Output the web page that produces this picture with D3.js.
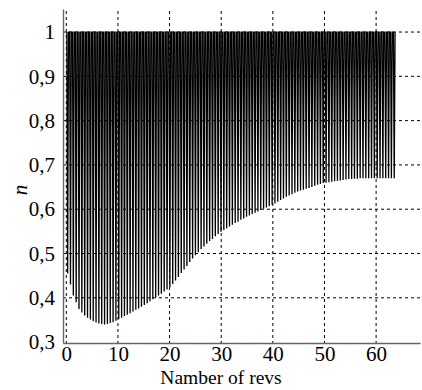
<!DOCTYPE html>
<html>
<head>
<meta charset="utf-8">
<script src="https://cdn.jsdelivr.net/npm/d3@7"></script>
<style>
  body { margin: 0; background: #fff; }
  text { font-family: 'Liberation Serif', 'DejaVu Serif', serif; fill: #000; }
</style>
</head>
<body>
<svg id="chart"></svg>
<script>
// lower point of every dip (n), one dip each dipStep revs, starting at firstDip
const firstDip = 0.1;
const dipStep = 0.55;
const peak = 1;
const dipMin = [
  0.455, 0.43, 0.405, 0.39, 0.375, 0.367, 0.36, 0.355, 0.351, 0.347,
  0.344, 0.342, 0.341, 0.340, 0.341, 0.343, 0.345, 0.348, 0.352, 0.355,
  0.359, 0.362, 0.365, 0.369, 0.373, 0.376, 0.38, 0.384, 0.388, 0.392,
  0.397, 0.401, 0.405, 0.409, 0.414, 0.419, 0.424, 0.431, 0.439, 0.447,
  0.456, 0.464, 0.472, 0.481, 0.489, 0.496, 0.503, 0.51, 0.516, 0.522,
  0.528, 0.533, 0.539, 0.544, 0.549, 0.553, 0.557, 0.561, 0.565, 0.569,
  0.572, 0.576, 0.579, 0.583, 0.586, 0.589, 0.592, 0.595, 0.598, 0.601,
  0.604, 0.607, 0.61, 0.613, 0.617, 0.621, 0.624, 0.628, 0.631, 0.634,
  0.637, 0.64, 0.642, 0.644, 0.646, 0.648, 0.65, 0.653, 0.655, 0.657,
  0.659, 0.66, 0.661, 0.662, 0.663, 0.664, 0.665, 0.666, 0.667, 0.668,
  0.668, 0.669, 0.669, 0.67, 0.67, 0.67, 0.67, 0.67, 0.67, 0.67,
  0.67, 0.67, 0.67, 0.67, 0.67, 0.67
];
const xTicks = [0, 10, 20, 30, 40, 50, 60];
const yTicks = [0.3, 0.4, 0.5, 0.6, 0.7, 0.8, 0.9, 1];
const xTitle = 'Namber of revs';
const yTitle = 'n';

const width = 422, height = 390;
const svg = d3.select('#chart')
  .attr('width', width)
  .attr('height', height);

const x = d3.scaleLinear().domain([-0.64, 68.5]).range([63, 420]);
const y = d3.scaleLinear().domain([0.298, 1.052]).range([343, 9]);

// grid
svg.append('g')
  .selectAll('line')
  .data(xTicks)
  .join('line')
  .attr('x1', d => x(d)).attr('x2', d => x(d))
  .attr('y1', y.range()[1] + 2).attr('y2', y.range()[0])
  .attr('stroke', '#000')
  .attr('stroke-width', 1)
  .attr('stroke-dasharray', '3,3');

svg.append('g')
  .selectAll('line')
  .data(yTicks.filter(d => d > 0.3))
  .join('line')
  .attr('x1', x.range()[0]).attr('x2', x.range()[1])
  .attr('y1', d => y(d)).attr('y2', d => y(d))
  .attr('stroke', '#000')
  .attr('stroke-width', 1)
  .attr('stroke-dasharray', '3,3');

// the signal: flat at the peak, a narrow dip down to dipMin, back up
const pts = [];
dipMin.forEach((m, i) => {
  const r = firstDip + i * dipStep;
  pts.push([r, peak], [r + 0.16, m], [r + 0.32, peak]);
});

const line = d3.line()
  .x(d => x(d[0]))
  .y(d => y(d[1]));

svg.append('path')
  .datum(pts)
  .attr('fill', 'none')
  .attr('stroke', '#000')
  .attr('stroke-width', 1.3)
  .attr('d', line);

// axes (left + bottom only)
const axisX = d3.axisBottom(x).tickValues(xTicks).tickSize(0).tickPadding(3).tickFormat(d3.format('d'));
const axisY = d3.axisLeft(y).tickValues(yTicks).tickSize(0).tickPadding(8)
  .tickFormat(d => d === 1 ? '1' : d3.format('.1f')(d).replace('.', ','));

const gx = svg.append('g')
  .attr('transform', `translate(0,${y.range()[0]})`)
  .call(axisX);
const gy = svg.append('g')
  .attr('transform', `translate(${x.range()[0]},0)`)
  .call(axisY);

[gx, gy].forEach(g => {
  g.select('.domain').attr('stroke', '#666').attr('stroke-width', 1.4);
  g.selectAll('text').style('font-size', '21px');
});

svg.append('text')
  .attr('x', 221)
  .attr('y', 384)
  .attr('text-anchor', 'middle')
  .style('font-size', '19.5px')
  .text(xTitle);

svg.append('text')
  .attr('transform', 'translate(27,190) rotate(-90)')
  .attr('text-anchor', 'middle')
  .style('font-size', '21px')
  .style('font-style', 'italic')
  .text(yTitle);
</script>
</body>
</html>
